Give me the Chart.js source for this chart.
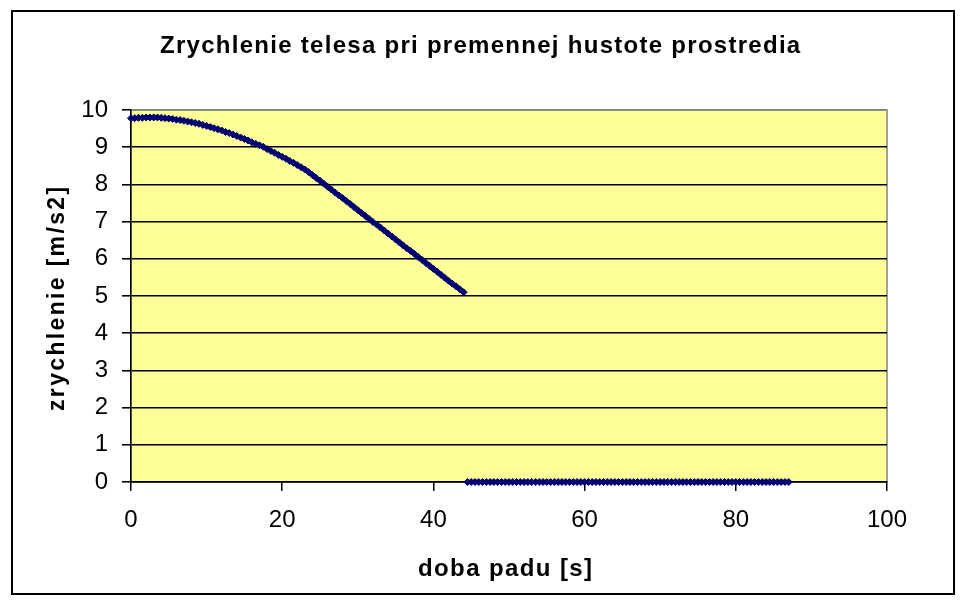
<!DOCTYPE html>
<html>
<head>
<meta charset="utf-8">
<script src="https://cdn.jsdelivr.net/npm/chart.js@4/dist/chart.umd.min.js"></script>
<style>
  html, body { margin: 0; padding: 0; background: #ffffff; }
  #c { display: block; }
</style>
</head>
<body>
<canvas id="c" width="969" height="606" style="width:969px;height:606px"></canvas>
<script>
// ---- data ----
const chartTitle = 'Zrychlenie telesa pri premennej hustote prostredia';
const xTitle = 'doba padu [s]';
const yTitle = 'zrychlenie [m/s2]';

const xTicks = [0, 20, 40, 60, 80, 100];
const yTicks = [0, 1, 2, 3, 4, 5, 6, 7, 8, 9, 10];

const fallTimes = [
  0, 0.5, 1, 1.5, 2, 2.5, 3, 3.5, 4, 4.5,
  5, 5.5, 6, 6.5, 7, 7.5, 8, 8.5, 9, 9.5,
  10, 10.5, 11, 11.5, 12, 12.5, 13, 13.5, 14, 14.5,
  15, 15.5, 16, 16.5, 17, 17.5, 18, 18.5, 19, 19.5,
  20, 20.5, 21, 21.5, 22, 22.5, 23, 23.5, 24, 24.5,
  25, 25.5, 26, 26.5, 27, 27.5, 28, 28.5, 29, 29.5,
  30, 30.5, 31, 31.5, 32, 32.5, 33, 33.5, 34, 34.5,
  35, 35.5, 36, 36.5, 37, 37.5, 38, 38.5, 39, 39.5,
  40, 40.5, 41, 41.5, 42, 42.5, 43, 43.5, 44
];
const fallAccel = [
  9.78, 9.78, 9.79, 9.79, 9.80, 9.80, 9.80, 9.80, 9.79, 9.78,
  9.77, 9.76, 9.74, 9.73, 9.71, 9.69, 9.67, 9.65, 9.63, 9.60,
  9.57, 9.54, 9.51, 9.48, 9.45, 9.41, 9.38, 9.34, 9.30, 9.26,
  9.22, 9.18, 9.13, 9.09, 9.05, 9.01, 8.95, 8.90, 8.85, 8.79,
  8.74, 8.69, 8.63, 8.58, 8.52, 8.46, 8.40, 8.33, 8.25, 8.17,
  8.10, 8.02, 7.94, 7.86, 7.78, 7.70, 7.63, 7.55, 7.47, 7.39,
  7.31, 7.23, 7.15, 7.07, 6.99, 6.92, 6.84, 6.76, 6.68, 6.60,
  6.52, 6.44, 6.36, 6.28, 6.21, 6.13, 6.05, 5.97, 5.89, 5.81,
  5.73, 5.65, 5.57, 5.49, 5.41, 5.33, 5.26, 5.18, 5.10
];

const restTimes = [
  44.5, 45, 45.5, 46, 46.5, 47, 47.5, 48, 48.5, 49,
  49.5, 50, 50.5, 51, 51.5, 52, 52.5, 53, 53.5, 54,
  54.5, 55, 55.5, 56, 56.5, 57, 57.5, 58, 58.5, 59,
  59.5, 60, 60.5, 61, 61.5, 62, 62.5, 63, 63.5, 64,
  64.5, 65, 65.5, 66, 66.5, 67, 67.5, 68, 68.5, 69,
  69.5, 70, 70.5, 71, 71.5, 72, 72.5, 73, 73.5, 74,
  74.5, 75, 75.5, 76, 76.5, 77, 77.5, 78, 78.5, 79,
  79.5, 80, 80.5, 81, 81.5, 82, 82.5, 83, 83.5, 84,
  84.5, 85, 85.5, 86, 86.5, 87
];
const restAccel = [
  0, 0, 0, 0, 0, 0, 0, 0, 0, 0,
  0, 0, 0, 0, 0, 0, 0, 0, 0, 0,
  0, 0, 0, 0, 0, 0, 0, 0, 0, 0,
  0, 0, 0, 0, 0, 0, 0, 0, 0, 0,
  0, 0, 0, 0, 0, 0, 0, 0, 0, 0,
  0, 0, 0, 0, 0, 0, 0, 0, 0, 0,
  0, 0, 0, 0, 0, 0, 0, 0, 0, 0,
  0, 0, 0, 0, 0, 0, 0, 0, 0, 0,
  0, 0, 0, 0, 0, 0
];

// ---- build points ----
const points = [];
fallTimes.forEach((t, i) => points.push({ x: t, y: fallAccel[i] }));
restTimes.forEach((t, i) => points.push({ x: t, y: restAccel[i] }));

const FONT = '"Liberation Sans", Arial, sans-serif';

function drawFitted(ctx, text, cx, baseY, targetW, font, rotate) {
  ctx.save();
  ctx.font = font;
  ctx.letterSpacing = '0px';
  const w = ctx.measureText(text).width;
  const ls = (targetW - w) / (text.length - 1);
  ctx.letterSpacing = ls.toFixed(2) + 'px';
  ctx.fillStyle = '#000000';
  ctx.textAlign = 'left';
  ctx.textBaseline = 'alphabetic';
  if (rotate) {
    ctx.translate(cx, baseY);
    ctx.rotate(-Math.PI / 2);
    ctx.fillText(text, -targetW / 2, 0);
  } else {
    ctx.fillText(text, cx - targetW / 2, baseY);
  }
  ctx.restore();
}

const decor = {
  id: 'decor',
  beforeDraw(chart) {
    const ctx = chart.ctx;
    const a = chart.chartArea;
    ctx.save();
    ctx.fillStyle = '#ffffff';
    ctx.fillRect(0, 0, chart.width, chart.height);
    ctx.strokeStyle = '#000000';
    ctx.lineWidth = 2;
    ctx.strokeRect(12, 11, 942, 583);
    ctx.fillStyle = '#ffff99';
    ctx.fillRect(a.left, a.top, a.right - a.left, a.bottom - a.top);
    ctx.strokeStyle = '#808080';
    ctx.lineWidth = 1.5;
    ctx.strokeRect(a.left, a.top, a.right - a.left, a.bottom - a.top);
    ctx.restore();
  },
  afterDraw(chart) {
    const ctx = chart.ctx;
    drawFitted(ctx, chartTitle, 480, 53, 640, 'bold 24px ' + FONT, false);
    drawFitted(ctx, xTitle, 505, 576, 174, 'bold 24px ' + FONT, false);
    drawFitted(ctx, yTitle, 64, 299, 224, 'bold 23px ' + FONT, true);
  }
};

new Chart(document.getElementById('c'), {
  type: 'scatter',
  data: {
    datasets: [{
      label: yTitle,
      data: points,
      pointStyle: 'rectRot',
      pointRadius: 3.5,
      pointHoverRadius: 3.5,
      backgroundColor: '#000070',
      borderColor: '#000070',
      borderWidth: 1,
      showLine: false,
      clip: false
    }]
  },
  options: {
    responsive: false,
    animation: false,
    events: [],
    layout: { padding: { top: 110, right: 82, left: 0, bottom: 0 } },
    plugins: {
      legend: { display: false },
      title: { display: false },
      tooltip: { enabled: false }
    },
    scales: {
      x: {
        type: 'linear',
        min: 0,
        max: 100,
        afterBuildTicks(s) { s.ticks = xTicks.map(v => ({ value: v })); },
        afterFit(s) { s.height = 124; },
        ticks: {
          color: '#000000',
          font: { family: FONT, size: 24 },
          padding: 15,
          maxRotation: 0,
          autoSkip: false
        },
        grid: {
          drawOnChartArea: false,
          drawTicks: true,
          tickLength: 9,
          color: '#000000',
          lineWidth: 1.5
        },
        border: { display: true, color: '#000000', width: 1.5 }
      },
      y: {
        type: 'linear',
        min: 0,
        max: 10,
        afterBuildTicks(s) { s.ticks = yTicks.map(v => ({ value: v })); },
        afterFit(s) { s.width = 131; },
        ticks: {
          color: '#000000',
          font: { family: FONT, size: 24 },
          padding: 14,
          autoSkip: false
        },
        grid: {
          drawTicks: true,
          tickLength: 9,
          color: (c) => (c.tick && c.tick.value === 10) ? '#808080' : '#000000',
          tickColor: '#000000',
          lineWidth: 1.6
        },
        border: { display: true, color: '#000000', width: 1.5 }
      }
    }
  },
  plugins: [decor]
});
</script>
</body>
</html>
